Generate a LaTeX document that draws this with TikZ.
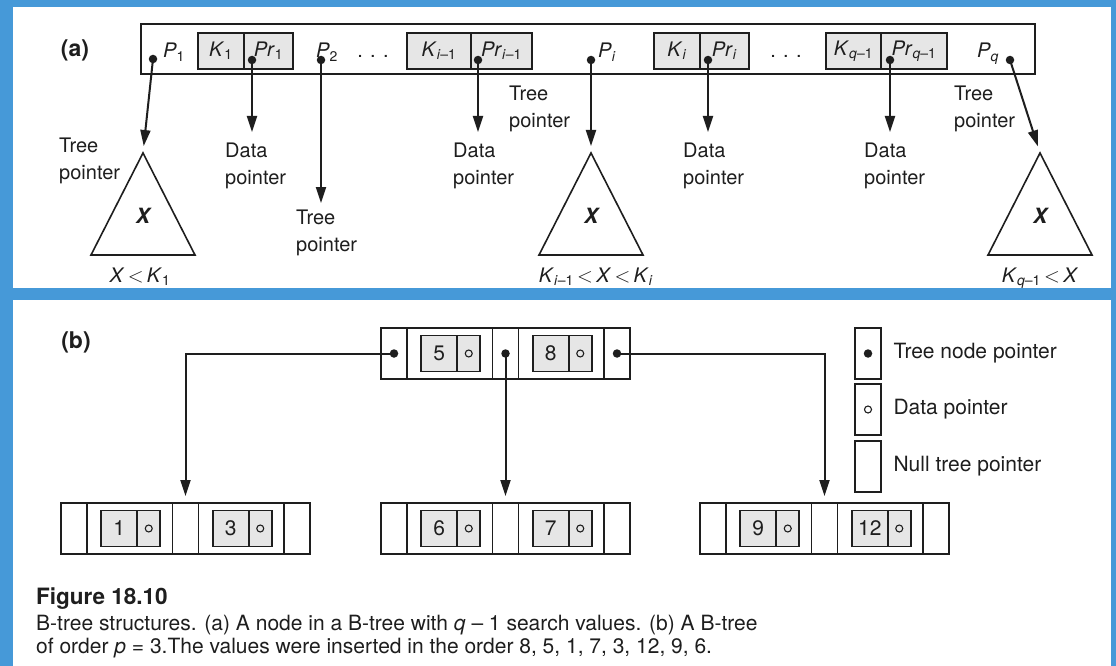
\documentclass[tikz,border=0pt]{standalone}
\usepackage{fontspec}
\setmainfont{TeX Gyre Heros}
\usetikzlibrary{positioning,arrows.meta}
\definecolor{frameblue}{HTML}{4699D8}
\definecolor{cellgray}{HTML}{E6E6E6}
\definecolor{ink}{HTML}{1E1E1E}
\newcommand{\subname}[2]{\textit{#1}\textsubscript{#2}}

\begin{document}
\begin{tikzpicture}[x=1pt,y=-1pt]
  \tikzset{
    every node/.style={text=ink, font=\fontsize{20}{27}\selectfont},
    outline/.style={draw=ink, line width=1.8pt, inner sep=0pt, outer sep=0pt},
    keybox/.style={outline, fill=cellgray, minimum height=36pt, font=\fontsize{20}{20}\selectfont},
    ptrcell/.style={outline, minimum width=26pt, minimum height=51pt},
    keycell/.style={ptrcell, minimum width=85.5pt},
    keypart/.style={keybox, minimum width=36pt, font=\fontsize{21}{21}\selectfont},
    datapart/.style={keybox, minimum width=23pt},
    dot/.style={circle, fill=ink, minimum size=8.5pt, inner sep=0pt},
    ring/.style={circle, draw=ink, line width=1.1pt, minimum size=7pt, inner sep=0pt},
    boxtext/.style={inner sep=0pt, anchor=base},
    tag/.style={font=\bfseries\fontsize{23}{23}\selectfont},
    note/.style={align=left, inner sep=0pt, anchor=north west},
    legend/.style={font=\fontsize{21}{21}\selectfont},
    arr/.style={draw=ink, line width=2pt, -{Triangle[length=16pt,width=10pt]}, shorten >=7pt},
    subtree/.style={draw=ink, line width=1.6pt}
  }
  % frame
  \fill[frameblue] (0,0) rectangle (1116,666);
  \fill[white] (13,7) rectangle (1111,288);
  \fill[white] (13,300) rectangle (1111,666);

  % (a) a node with q-1 search values
  \node[tag] (tag-a) at (75,50) {(a)};
  \node[outline, minimum width=894pt, minimum height=50pt, anchor=north west] (anode) at (141,24) {};
  \node[keybox, minimum width=46pt, anchor=north west] (k1) at (198,33) {\subname{K}{1}};
  \node[keybox, minimum width=49pt, right=0pt of k1] (pr1) {\subname{Pr}{1}};
  \node[keybox, minimum width=64pt, anchor=north west] (ki1) at (407,33) {\subname{K}{\textit{i}–1}};
  \node[keybox, minimum width=61pt, right=0pt of ki1] (pri1) {\subname{Pr}{\textit{i}–1}};
  \node[keybox, minimum width=46pt, anchor=north west] (ki) at (654,33) {\subname{K}{\textit{i}}};
  \node[keybox, minimum width=49pt, right=0pt of ki] (pri) {\subname{Pr}{\textit{i}}};
  \node[keybox, minimum width=55pt, anchor=north west] (kq1) at (826,33) {\subname{K}{\textit{q}–1}};
  \node[keybox, minimum width=66pt, right=0pt of kq1] (prq1) {\subname{Pr}{\textit{q}–1}};

  \node[boxtext] (lp1) at (174,58) {\subname{P}{1}};
  \node[boxtext] (lp2) at (327,58) {\subname{P}{2}};
  \node[boxtext] (gap1) at (373,58) {. . .};
  \node[boxtext] (lpi) at (607,58) {\subname{P}{\textit{i}}};
  \node[boxtext] (gap2) at (786,58) {. . .};
  \node[boxtext] (lpq) at (988,58) {\subname{P}{\textit{q}}};

  \node[dot] (dp1) at (153,59) {};
  \node[dot] (dpr1) at ([xshift=8pt,yshift=-9pt]pr1.west) {};
  \node[dot] (dp2) at (321,60) {};
  \node[dot] (dpri1) at ([xshift=7pt,yshift=-9pt]pri1.west) {};
  \node[dot] (dpi) at (591,60) {};
  \node[dot] (dpri) at ([xshift=8pt,yshift=-9pt]pri.west) {};
  \node[dot] (dprq1) at ([xshift=9pt,yshift=-9pt]prq1.west) {};
  \node[dot] (dpq) at (1010,60) {};

  % subtrees
  \coordinate (t1) at (143,153);
  \coordinate (t2) at (591,153);
  \coordinate (t3) at (1040,153);
  \draw[subtree] (t1) -- ++(-52,102) -- ++(104,0) -- cycle;
  \draw[subtree] (t2) -- ++(-52,102) -- ++(104,0) -- cycle;
  \draw[subtree] (t3) -- ++(-52,102) -- ++(104,0) -- cycle;
  \node[boxtext, font=\bfseries\itshape\fontsize{21}{21}\selectfont] (x1) at (143,223) {X};
  \node[boxtext, font=\bfseries\itshape\fontsize{21}{21}\selectfont] (x2) at (591,223) {X};
  \node[boxtext, font=\bfseries\itshape\fontsize{21}{21}\selectfont] (x3) at (1040,223) {X};
  \node[boxtext] (c1) at (140,282) {\textit{X}\,$<$\,\subname{K}{1}};
  \node[boxtext] (c2) at (596,282) {\subname{K}{\textit{i}–1}\,$<$\,\textit{X}\,$<$\,\subname{K}{\textit{i}}};
  \node[boxtext] (c3) at (1040,282) {\subname{K}{\textit{q}–1}\,$<$\,\textit{X}};

  % pointer labels
  \node[note] (n1) at (59,138) {Tree\\pointer};
  \node[note] (n2) at (225,143) {Data\\pointer};
  \node[note] (n3) at (296,210) {Tree\\pointer};
  \node[note] (n4) at (453,143) {Data\\pointer};
  \node[note] (n5) at (509,86) {Tree\\pointer};
  \node[note] (n6) at (683,143) {Data\\pointer};
  \node[note] (n7) at (864,143) {Data\\pointer};
  \node[note] (n8) at (954,86) {Tree\\pointer};

  \draw[arr] (dp1.center) -- (t1);
  \draw[arr, shorten >=11pt] (dpr1.center) -- (dpr1.center |- n2.north);
  \draw[arr] (dp2.center) -- (dp2.center |- n3.north);
  \draw[arr, shorten >=11pt] (dpri1.center) -- (dpri1.center |- n4.north);
  \draw[arr] (dpi.center) -- (t2);
  \draw[arr, shorten >=11pt] (dpri.center) -- (dpri.center |- n6.north);
  \draw[arr, shorten >=11pt] (dprq1.center) -- (dprq1.center |- n7.north);
  \draw[arr] (dpq.center) -- (t3);

  % (b) a B-tree of order p = 3
  \node[tag] (tag-b) at (76,342) {(b)};
  \foreach \nm/\xa/\ya/\ka/\kb in {r/381/328/5/8, la/61/503/1/3, lb/381/503/6/7, lc/700/503/9/12} {
    \node[ptrcell, anchor=north west] (\nm-p1) at (\xa,\ya) {};
    \node[keycell, right=0pt of \nm-p1] (\nm-k1) {};
    \node[ptrcell, right=0pt of \nm-k1] (\nm-p2) {};
    \node[keycell, right=0pt of \nm-p2] (\nm-k2) {};
    \node[ptrcell, right=0pt of \nm-k2] (\nm-p3) {};
    \node[keypart, anchor=east] (\nm-v1) at ([xshift=7.5pt]\nm-k1.center) {\ka};
    \node[datapart, right=0pt of \nm-v1] (\nm-c1) {};
    \node[keypart, anchor=east] (\nm-v2) at ([xshift=7.5pt]\nm-k2.center) {\kb};
    \node[datapart, right=0pt of \nm-v2] (\nm-c2) {};
    \node[ring] (\nm-o1) at (\nm-c1) {};
    \node[ring] (\nm-o2) at (\nm-c2) {};
  }
  \node[dot] (r-d1) at (r-p1) {};
  \node[dot] (r-d2) at (r-p2) {};
  \node[dot] (r-d3) at (r-p3) {};
  \draw[arr] (r-d1.center) -| (la-p2.north);
  \draw[arr] (r-d2.center) -- (lb-p2.north);
  \draw[arr] (r-d3.center) -| (lc-p2.north);

  % legend
  \node[ptrcell, anchor=north west] (key-tree) at (855,328) {};
  \node[ptrcell, below=5pt of key-tree] (key-data) {};
  \node[ptrcell, below=6pt of key-data] (key-null) {};
  \node[dot] (key-dot) at (key-tree) {};
  \node[ring] (key-ring) at (key-data) {};
  \node[legend, right=9pt of key-tree] (txt-tree) {Tree node pointer};
  \node[legend, right=9pt of key-data] (txt-data) {Data pointer};
  \node[legend, right=9pt of key-null] (txt-null) {Null tree pointer};

  % caption
  \node[anchor=base west, inner sep=0pt, font=\bfseries\fontsize{22.5}{22.5}\selectfont] (fig-num) at (36,604) {Figure 18.10};
  \node[anchor=base west, inner sep=0pt, font=\fontsize{21}{24}\selectfont] (fig-line1) at (36,630) {B-tree structures. (a) A node in a B-tree with \textit{q} – 1 search values. (b) A B-tree};
  \node[anchor=base west, inner sep=0pt, font=\fontsize{21}{24}\selectfont] (fig-line2) at (36,653) {of order \textit{p} = 3.The values were inserted in the order 8, 5, 1, 7, 3, 12, 9, 6.};
\end{tikzpicture}
\end{document}
